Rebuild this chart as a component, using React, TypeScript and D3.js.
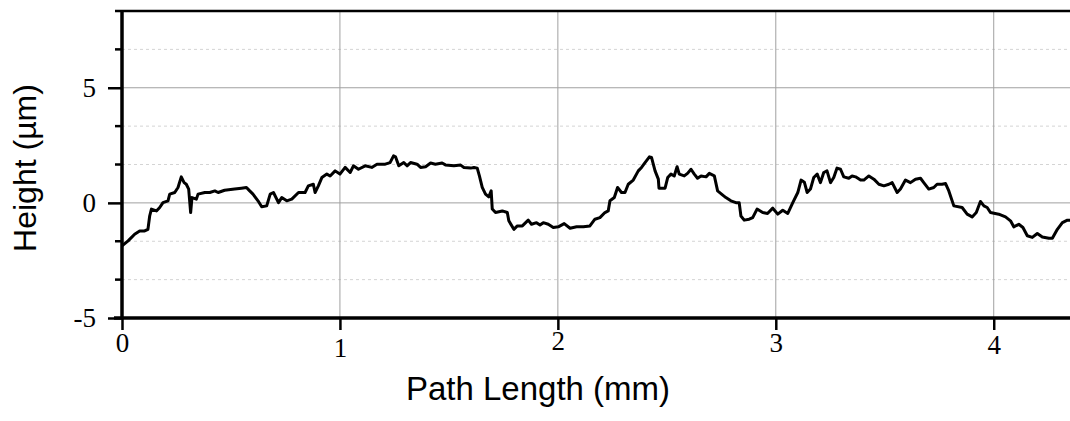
import * as d3 from "d3";
import {useEffect, useRef} from "react";

const WIDTH = 1070;
const HEIGHT = 421;
const MARGIN = {top: 11, right: 0, bottom: 103, left: 122};

// profile: path length (mm) and height (µm)
const pathLength = [
  0, 0.028, 0.058, 0.081, 0.104, 0.119, 0.127, 0.135, 0.158, 0.173, 0.188, 0.211, 0.219, 0.242, 0.257,
  0.272, 0.285, 0.295, 0.306, 0.315, 0.321, 0.341, 0.349, 0.38, 0.403, 0.426, 0.441, 0.471, 0.517, 0.548,
  0.571, 0.586, 0.601, 0.624, 0.641, 0.664, 0.68, 0.695, 0.718, 0.733, 0.756, 0.779, 0.81, 0.84, 0.855,
  0.878, 0.886, 0.901, 0.917, 0.94, 0.955, 0.978, 1.0, 1.024, 1.047, 1.062, 1.085, 1.116, 1.146, 1.17,
  1.208, 1.23, 1.246, 1.255, 1.27, 1.293, 1.308, 1.324, 1.354, 1.37, 1.393, 1.416, 1.438, 1.469, 1.484,
  1.523, 1.554, 1.569, 1.6, 1.615, 1.63, 1.64, 1.653, 1.668, 1.683, 1.694, 1.699, 1.714, 1.745, 1.768,
  1.775, 1.798, 1.814, 1.837, 1.864, 1.879, 1.902, 1.918, 1.933, 1.956, 1.979, 2.002, 2.029, 2.056, 2.086,
  2.117, 2.147, 2.17, 2.193, 2.216, 2.231, 2.239, 2.259, 2.274, 2.292, 2.308, 2.323, 2.346, 2.369, 2.384,
  2.4, 2.42, 2.43, 2.446, 2.461, 2.464, 2.492, 2.504, 2.519, 2.534, 2.547, 2.557, 2.58, 2.595, 2.611,
  2.626, 2.641, 2.657, 2.68, 2.695, 2.718, 2.733, 2.751, 2.771, 2.794, 2.817, 2.832, 2.84, 2.855, 2.878,
  2.894, 2.914, 2.94, 2.962, 2.986, 3.009, 3.032, 3.055, 3.078, 3.101, 3.116, 3.131, 3.144, 3.159, 3.174,
  3.19, 3.205, 3.22, 3.235, 3.251, 3.266, 3.281, 3.297, 3.312, 3.335, 3.35, 3.366, 3.389, 3.404, 3.427,
  3.45, 3.473, 3.496, 3.519, 3.534, 3.557, 3.572, 3.595, 3.618, 3.641, 3.664, 3.679, 3.702, 3.725, 3.74,
  3.763, 3.779, 3.794, 3.817, 3.855, 3.878, 3.901, 3.92, 3.939, 3.955, 3.97, 3.985, 4.023, 4.054, 4.077,
  4.092, 4.115, 4.134, 4.154, 4.177, 4.2, 4.223, 4.253, 4.269, 4.292, 4.315, 4.338, 4.35
];
const height = [
  -1.87, -1.65, -1.36, -1.22, -1.22, -1.15, -0.57, -0.27, -0.35, -0.2, 0.01, 0.09, 0.38, 0.45, 0.67,
  1.13, 0.88, 0.81, 0.6, -0.42, 0.23, 0.16, 0.38, 0.45, 0.45, 0.52, 0.45, 0.55, 0.6, 0.64,
  0.67, 0.52, 0.38, 0.09, -0.17, -0.13, 0.38, 0.45, 0.01, 0.23, 0.09, 0.16, 0.45, 0.45, 0.74,
  0.81, 0.45, 0.74, 1.1, 1.25, 1.17, 1.39, 1.25, 1.54, 1.32, 1.61, 1.46, 1.61, 1.54, 1.68,
  1.68, 1.75, 2.04, 2.0, 1.61, 1.75, 1.61, 1.75, 1.68, 1.54, 1.57, 1.73, 1.68, 1.73, 1.65,
  1.61, 1.64, 1.54, 1.51, 1.54, 1.51, 1.17, 0.67, 0.38, 0.26, 0.52, -0.27, -0.42, -0.35, -0.42,
  -0.78, -1.15, -1.0, -1.0, -0.75, -0.93, -0.86, -0.96, -0.86, -0.93, -1.07, -1.04, -0.9, -1.1, -1.04,
  -1.04, -1.0, -0.71, -0.64, -0.42, -0.35, 0.09, 0.23, 0.67, 0.45, 0.45, 0.81, 0.99, 1.39, 1.54,
  1.75, 2.0, 1.97, 1.39, 1.03, 0.64, 0.64, 1.1, 1.25, 1.17, 1.57, 1.25, 1.17, 1.28, 1.46,
  1.25, 1.07, 1.17, 1.13, 1.28, 1.17, 0.52, 0.38, 0.23, 0.09, 0.01, 0.01, -0.57, -0.75, -0.71,
  -0.64, -0.27, -0.42, -0.46, -0.23, -0.49, -0.32, -0.46, 0.01, 0.45, 0.99, 0.9, 0.45, 0.6, 1.1,
  1.25, 0.88, 1.32, 1.39, 0.88, 1.1, 1.51, 1.46, 1.13, 1.07, 1.17, 1.13, 0.99, 0.99, 1.17,
  1.03, 0.81, 0.74, 0.81, 0.88, 0.45, 0.6, 0.99, 0.88, 1.03, 1.07, 0.88, 0.6, 0.67, 0.81,
  0.81, 0.84, 0.52, -0.13, -0.2, -0.49, -0.61, -0.42, 0.06, -0.13, -0.2, -0.42, -0.49, -0.61, -0.78,
  -1.04, -0.93, -1.07, -1.43, -1.5, -1.33, -1.48, -1.54, -1.54, -1.15, -0.86, -0.75, -0.75
];

const xTicks = [0, 1, 2, 3, 4];
const yTicks = [-5, 0, 5];
const yMinorTicks = [-10 / 3, -5 / 3, 5 / 3, 10 / 3, 20 / 3];

const App = () => {
  const ref = useRef<SVGSVGElement>(null);

  useEffect(() => {
    const svg = d3.select(ref.current);
    svg.selectAll("*").remove();

    const x = d3.scaleLinear().domain([0, 4.35]).range([MARGIN.left, WIDTH - MARGIN.right]);
    const y = d3.scaleLinear().domain([-5, 25 / 3]).range([HEIGHT - MARGIN.bottom, MARGIN.top]);

    svg.append("rect").attr("width", WIDTH).attr("height", HEIGHT).attr("fill", "white");

    // grid
    const grid = svg.append("g");
    grid.selectAll("line.dot")
      .data(yMinorTicks)
      .join("line")
      .attr("x1", x(0)).attr("x2", x(4.35))
      .attr("y1", d => y(d)).attr("y2", d => y(d))
      .attr("stroke", "#d4d4d4").attr("stroke-dasharray", "3,3");
    grid.selectAll("line.h")
      .data([0, 5])
      .join("line")
      .attr("x1", x(0)).attr("x2", x(4.35))
      .attr("y1", d => y(d)).attr("y2", d => y(d))
      .attr("stroke", "#a0a0a0");
    grid.selectAll("line.v")
      .data(xTicks.slice(1))
      .join("line")
      .attr("x1", d => x(d)).attr("x2", d => x(d))
      .attr("y1", y(25 / 3)).attr("y2", y(-5))
      .attr("stroke", "#a0a0a0");

    // the profile
    const line = d3.line<number>()
      .x((_, i) => x(pathLength[i]))
      .y(d => y(d));
    svg.append("path")
      .datum(height)
      .attr("d", line)
      .attr("fill", "none")
      .attr("stroke", "black")
      .attr("stroke-width", 3)
      .attr("stroke-linejoin", "round");

    // axes
    const xAxis = svg.append("g")
      .attr("transform", `translate(0,${y(-5)})`)
      .call(d3.axisBottom(x).tickValues(xTicks).tickSize(12).tickFormat(d => String(d)));
    xAxis.select(".domain").remove();
    xAxis.selectAll(".tick line").attr("stroke-width", 2.5);
    xAxis.selectAll(".tick text")
      .attr("font-family", "Liberation Serif")
      .attr("font-size", 27)
      .attr("dy", (d, i) => [19, 24, 17, 19, 21][i]);

    const yAxis = svg.append("g")
      .attr("transform", `translate(${x(0)},0)`)
      .call(d3.axisLeft(y).tickValues(yTicks).tickSize(14).tickFormat(d => String(d)));
    yAxis.select(".domain").remove();
    yAxis.selectAll(".tick line").attr("stroke-width", 2.5);
    yAxis.selectAll(".tick text")
      .attr("font-family", "Liberation Serif")
      .attr("font-size", 27)
      .attr("x", -26);

    svg.append("g")
      .selectAll("line")
      .data(yMinorTicks)
      .join("line")
      .attr("x1", x(0) - 7).attr("x2", x(0))
      .attr("y1", d => y(d)).attr("y2", d => y(d))
      .attr("stroke", "black").attr("stroke-width", 2.5);

    // frame: left, bottom, top
    svg.append("line")
      .attr("x1", x(0)).attr("x2", x(0)).attr("y1", y(25 / 3) - 1).attr("y2", y(-5) + 1)
      .attr("stroke", "black").attr("stroke-width", 3.5);
    svg.append("line")
      .attr("x1", x(0) - 8).attr("x2", WIDTH).attr("y1", y(-5)).attr("y2", y(-5))
      .attr("stroke", "black").attr("stroke-width", 3.5);
    svg.append("line")
      .attr("x1", x(0) - 7).attr("x2", WIDTH).attr("y1", y(25 / 3)).attr("y2", y(25 / 3))
      .attr("stroke", "black").attr("stroke-width", 2.5);

    // titles
    svg.append("text")
      .attr("x", 538).attr("y", 400)
      .attr("text-anchor", "middle")
      .attr("font-family", "Liberation Sans")
      .attr("font-size", 33)
      .text("Path Length (mm)");
    svg.append("text")
      .attr("transform", `translate(36,168) rotate(-90)`)
      .attr("text-anchor", "middle")
      .attr("font-family", "Liberation Sans")
      .attr("font-size", 32)
      .text("Height (µm)");
  }, []);

  return (
    <svg ref={ref} width={WIDTH} height={HEIGHT}
         style={{position: "absolute", left: 0, top: 0, display: "block"}}/>
  );
};

export default App;
